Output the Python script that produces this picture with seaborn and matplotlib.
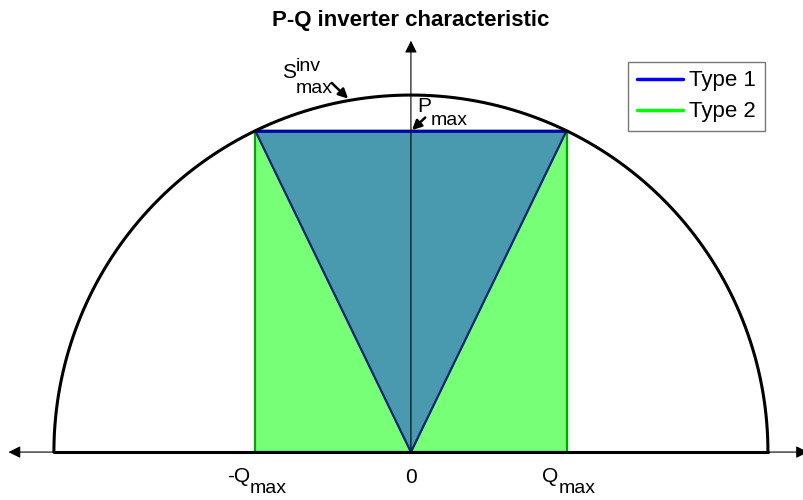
import numpy as np
import pandas as pd
import matplotlib
matplotlib.use('Agg')
import matplotlib.pyplot as plt
import seaborn as sns
from matplotlib.lines import Line2D

# values of the P-Q diagram (per unit of S_max)
s_max = 1.0
p_max = 0.90
q_max = 0.436
legend_names = ['Type 1', 'Type 2']

sns.set_style('white')
plt.rcParams['font.family'] = ['Liberation Sans', 'DejaVu Sans']
plt.rcParams['text.color'] = 'black'

fig = plt.figure(figsize=(8.04, 5.0), dpi=100)
ax = fig.add_axes([0, 0, 1, 1])
ax.set_xlim(-1.151, 1.101)
ax.set_ylim(-0.134, 1.266)
ax.set_aspect('equal')
ax.axis('off')


def label(x, y, base, sub=None, sup=None, size=15, sub_size=14, dy_sub=-0.025, dy_sup=0.02):
    # MATLAB-like label: base text ends at x, sub/superscript start at x
    ax.text(x, y, base, fontsize=size, ha='right', va='baseline')
    if sub:
        ax.text(x, y + dy_sub, sub, fontsize=sub_size, ha='left', va='baseline')
    if sup:
        ax.text(x, y + dy_sup, sup, fontsize=sub_size, ha='left', va='baseline')


def pointer(tip, tail):
    ax.annotate('', xy=tip, xytext=tail,
                arrowprops=dict(arrowstyle='-|>', color='black', lw=1.8,
                                mutation_scale=14, shrinkA=0, shrinkB=0), zorder=7)


# Type 2: rectangle
rect = pd.DataFrame({'q': [-q_max, q_max, q_max, -q_max, -q_max],
                     'p': [0, 0, p_max, p_max, 0]})
ax.fill(rect.q, rect.p, color='#77ff77', zorder=1)
ax.plot(rect.q, rect.p, color='#00a800', lw=1.6, zorder=2)

# Type 1: triangle
tri = pd.DataFrame({'q': [0, -q_max, q_max, 0], 'p': [0, p_max, p_max, 0]})
ax.fill(tri.q, tri.p, color='#4a9aaf', zorder=3)
ax.plot(tri.q, tri.p, color='#0a2470', lw=1.6, zorder=4)
ax.plot([-q_max, q_max], [p_max, p_max], color='#0000b0', lw=2, zorder=4)

# S_max semicircle
th = np.linspace(0, np.pi, 300)
circ = pd.DataFrame({'q': s_max * np.cos(th), 'p': s_max * np.sin(th)})
sns.lineplot(data=circ, x='q', y='p', sort=False, color='black', lw=2.2, ax=ax, zorder=5)
ax.plot([-s_max, s_max], [0, 0], color='black', lw=2.2, zorder=5)

# axes arrows
ax.annotate('', xy=(-1.135, 0), xytext=(1.12, 0),
            arrowprops=dict(arrowstyle='<|-|>', color='black', lw=0.8, mutation_scale=18), zorder=6)
ax.annotate('', xy=(0, 1.16), xytext=(0, 0),
            arrowprops=dict(arrowstyle='-|>', color='black', lw=0.8, mutation_scale=18), zorder=6)

# annotations with arrows
pointer((-0.176, 0.99), (-0.222, 1.034))
pointer((0.003, 0.902), (0.04, 0.937))
label(-0.322, 1.048, 'S', sub='max', sup='inv', dy_sub=-0.042, dy_sup=0.02)
label(0.056, 0.952, 'P', sub='max', dy_sub=-0.036)

# axis labels
label(-0.451, -0.085, '-Q', sub='max', dy_sub=-0.031)
ax.text(0, -0.088, '0', fontsize=15, ha='center', va='baseline')
label(0.414, -0.085, 'Q', sub='max', dy_sub=-0.031)

ax.text(0, 1.21, 'P-Q inverter characteristic', fontsize=16, fontweight='bold',
        ha='center', va='center')

handles = [Line2D([0], [0], color='#0000ff', lw=2.5),
           Line2D([0], [0], color='#00ff00', lw=2.5)]
leg = ax.legend(handles, legend_names, loc='upper right', bbox_to_anchor=(0.951, 0.877),
                fontsize=16, frameon=True, fancybox=False, handlelength=2.1,
                handletextpad=0.25, borderpad=0.4, labelspacing=0.45, borderaxespad=0)
leg.get_frame().set_edgecolor('#555555')
leg.get_frame().set_linewidth(1.0)

fig.savefig('out.png', dpi=100)
